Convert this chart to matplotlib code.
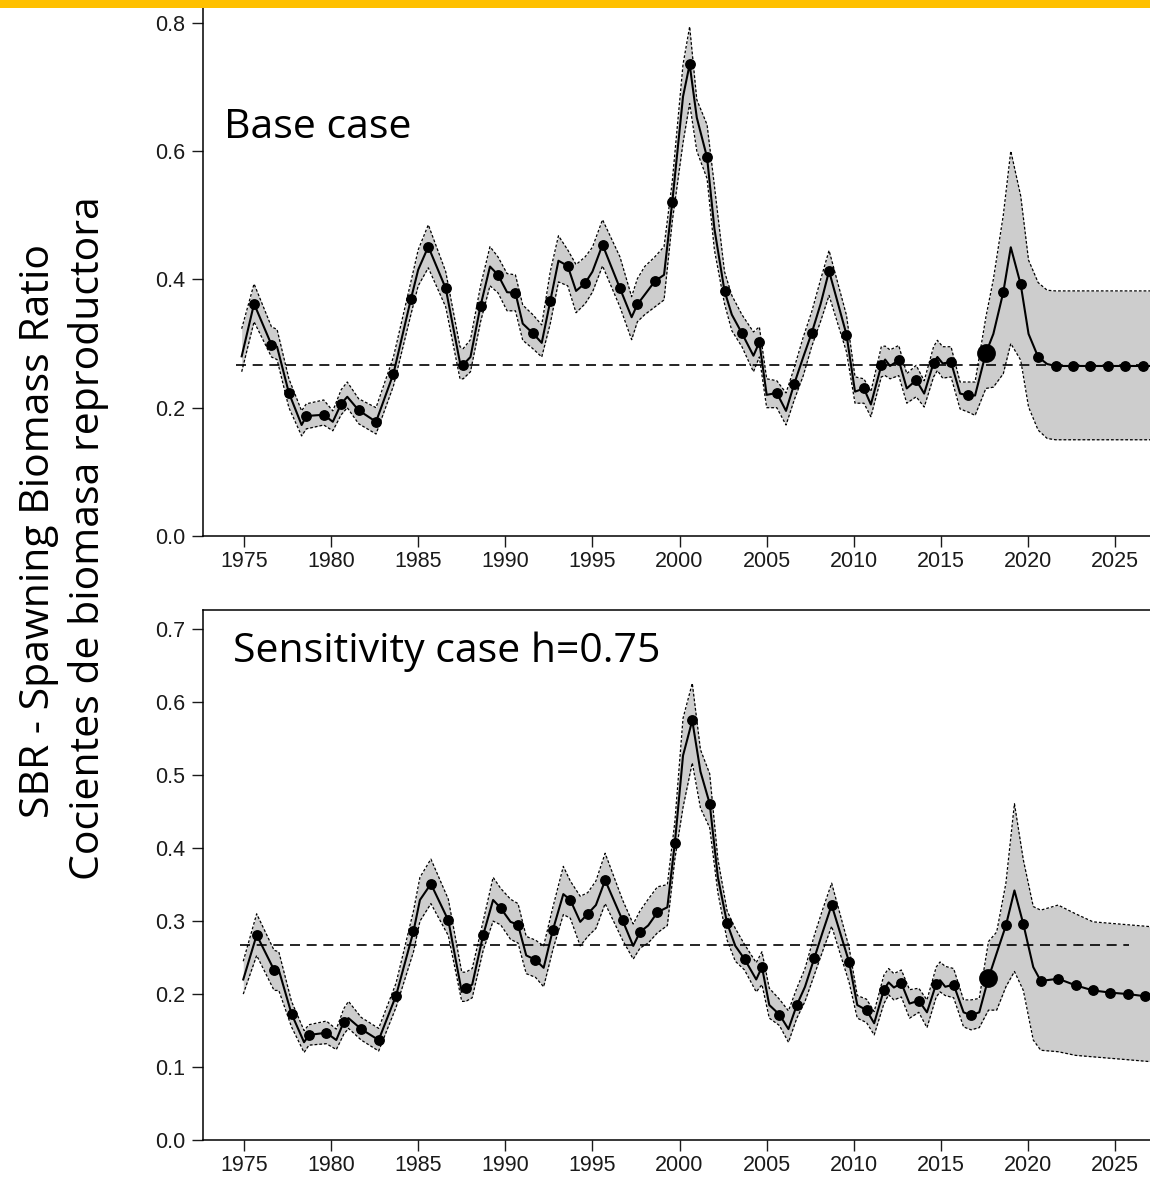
import numpy as np
import matplotlib
matplotlib.use("Agg")
import matplotlib.pyplot as plt
from matplotlib.patches import Rectangle

# ---------------- data ----------------
years = np.arange(1976, 2028)          # one dot per year
ref_sbr = 0.267                        # dashed reference level

# Base case: annual points
base_vals = [0.362, 0.298, 0.223, 0.187, 0.189, 0.206, 0.196, 0.178, 0.253, 0.369,
             0.451, 0.386, 0.267, 0.359, 0.407, 0.379, 0.316, 0.366, 0.421, 0.394,
             0.454, 0.386, 0.361, 0.397, 0.520, 0.735, 0.590, 0.382, 0.316, 0.302,
             0.223, 0.237, 0.316, 0.413, 0.314, 0.230, 0.266, 0.274, 0.243, 0.270,
             0.271, 0.219, 0.285, 0.380, 0.392, 0.279, 0.265, 0.265, 0.265, 0.265,
             0.265, 0.265]
base_lo = [0.334, 0.279, 0.200, 0.167, 0.173, 0.189, 0.175, 0.159, 0.234, 0.345,
           0.418, 0.357, 0.245, 0.334, 0.379, 0.351, 0.292, 0.331, 0.390, 0.362,
           0.421, 0.357, 0.334, 0.357, 0.490, 0.674, 0.557, 0.362, 0.295, 0.279,
           0.200, 0.212, 0.295, 0.375, 0.287, 0.207, 0.248, 0.250, 0.217, 0.248,
           0.248, 0.193, 0.230, 0.253, 0.274, 0.165, 0.150, 0.150, 0.150, 0.150,
           0.150, 0.150]
base_hi = [0.393, 0.326, 0.245, 0.206, 0.212, 0.228, 0.214, 0.200, 0.279, 0.396,
           0.485, 0.412, 0.292, 0.390, 0.435, 0.407, 0.345, 0.412, 0.446, 0.435,
           0.493, 0.435, 0.401, 0.435, 0.552, 0.794, 0.641, 0.412, 0.345, 0.326,
           0.242, 0.262, 0.349, 0.445, 0.344, 0.245, 0.295, 0.297, 0.266, 0.295,
           0.295, 0.240, 0.341, 0.500, 0.530, 0.395, 0.382, 0.382, 0.382, 0.382,
           0.382, 0.382]
# Base case: intermediate (quarterly) turning points of the trajectory
base_q_t = [1974.87, 1976.90, 1978.31, 1980.10, 1980.93, 1985.00, 1987.40, 1988.00,
            1989.12, 1990.10, 1991.00, 1992.09, 1993.05, 1994.06, 1995.00, 1997.25,
            1998.00, 1999.11, 2000.20, 2000.99, 2002.00, 2003.00, 2004.24, 2005.00,
            2006.11, 2007.10, 2008.10, 2010.07, 2010.98, 2011.80, 2012.08, 2013.04,
            2014.04, 2014.80, 2015.10, 2016.10, 2016.96, 2018.01, 2019.01, 2020.03,
            2021.10, 2027.20]
base_q_v = [0.280, 0.295, 0.173, 0.178, 0.217, 0.415, 0.270, 0.279, 0.420, 0.380,
            0.331, 0.301, 0.429, 0.382, 0.412, 0.341, 0.376, 0.407, 0.685, 0.652,
            0.479, 0.345, 0.281, 0.220, 0.195, 0.279, 0.362, 0.225, 0.205, 0.275,
            0.265, 0.230, 0.222, 0.279, 0.269, 0.222, 0.219, 0.315, 0.450, 0.315,
            0.268, 0.265]
base_q_lo = [0.256, 0.275, 0.156, 0.164, 0.200, 0.390, 0.245, 0.256, 0.390, 0.351,
             0.305, 0.279, 0.396, 0.348, 0.380, 0.306, 0.345, 0.368, 0.613, 0.600,
             0.446, 0.320, 0.256, 0.200, 0.173, 0.250, 0.335, 0.207, 0.186, 0.250,
             0.245, 0.207, 0.201, 0.258, 0.246, 0.198, 0.188, 0.232, 0.300, 0.201,
             0.152, 0.150]
base_q_hi = [0.323, 0.322, 0.195, 0.195, 0.240, 0.446, 0.295, 0.306, 0.451, 0.409,
             0.360, 0.329, 0.468, 0.423, 0.450, 0.373, 0.420, 0.451, 0.735, 0.680,
             0.546, 0.375, 0.318, 0.245, 0.223, 0.310, 0.400, 0.248, 0.225, 0.296,
             0.290, 0.253, 0.242, 0.305, 0.295, 0.240, 0.240, 0.400, 0.600, 0.430,
             0.383, 0.382]

# Sensitivity case h=0.75: annual points
sens_vals = [0.281, 0.233, 0.173, 0.144, 0.147, 0.162, 0.152, 0.137, 0.198, 0.286,
             0.351, 0.301, 0.208, 0.281, 0.318, 0.295, 0.247, 0.288, 0.329, 0.310,
             0.356, 0.301, 0.285, 0.312, 0.407, 0.575, 0.461, 0.297, 0.248, 0.237,
             0.172, 0.185, 0.249, 0.322, 0.244, 0.178, 0.206, 0.215, 0.191, 0.214,
             0.213, 0.171, 0.222, 0.294, 0.296, 0.218, 0.221, 0.212, 0.205, 0.202,
             0.200, 0.197]
sens_lo = [0.253, 0.205, 0.155, 0.130, 0.132, 0.145, 0.137, 0.122, 0.182, 0.258,
           0.324, 0.280, 0.190, 0.260, 0.295, 0.270, 0.223, 0.261, 0.304, 0.279,
           0.324, 0.274, 0.263, 0.284, 0.385, 0.517, 0.428, 0.274, 0.233, 0.213,
           0.157, 0.167, 0.226, 0.293, 0.216, 0.161, 0.187, 0.196, 0.175, 0.196,
           0.195, 0.151, 0.178, 0.210, 0.205, 0.123, 0.121, 0.116, 0.114, 0.112,
           0.110, 0.108]
sens_hi = [0.310, 0.260, 0.190, 0.158, 0.163, 0.180, 0.168, 0.153, 0.215, 0.314,
           0.385, 0.330, 0.230, 0.300, 0.345, 0.324, 0.274, 0.319, 0.355, 0.339,
           0.393, 0.329, 0.314, 0.347, 0.436, 0.626, 0.502, 0.314, 0.268, 0.258,
           0.193, 0.208, 0.280, 0.352, 0.264, 0.193, 0.226, 0.233, 0.208, 0.237,
           0.235, 0.192, 0.272, 0.352, 0.384, 0.315, 0.322, 0.310, 0.299, 0.297,
           0.295, 0.293]
sens_q_t = [1974.96, 1977.00, 1978.45, 1980.30, 1981.00, 1985.10, 1987.50, 1988.10,
            1989.30, 1990.30, 1991.20, 1992.20, 1993.33, 1994.30, 1995.20, 1997.34,
            1998.20, 1999.30, 2000.20, 2001.20, 2002.20, 2003.20, 2004.40, 2005.15,
            2006.25, 2007.20, 2008.20, 2010.20, 2011.17, 2012.00, 2012.30, 2013.20,
            2014.20, 2014.95, 2015.25, 2016.30, 2017.20, 2018.20, 2019.22, 2020.30,
            2027.20]
sens_q_v = [0.220, 0.233, 0.134, 0.137, 0.167, 0.329, 0.203, 0.213, 0.329, 0.299,
            0.253, 0.236, 0.337, 0.299, 0.322, 0.266, 0.294, 0.319, 0.527, 0.505,
            0.360, 0.266, 0.220, 0.185, 0.152, 0.210, 0.284, 0.185, 0.160, 0.216,
            0.209, 0.187, 0.175, 0.219, 0.210, 0.175, 0.175, 0.256, 0.342, 0.237,
            0.196]
sens_q_lo = [0.200, 0.205, 0.120, 0.124, 0.153, 0.300, 0.190, 0.195, 0.300, 0.275,
             0.228, 0.210, 0.309, 0.266, 0.290, 0.248, 0.270, 0.294, 0.456, 0.455,
             0.339, 0.245, 0.203, 0.167, 0.134, 0.190, 0.258, 0.167, 0.144, 0.199,
             0.192, 0.167, 0.154, 0.203, 0.198, 0.155, 0.154, 0.178, 0.231, 0.137,
             0.107]
sens_q_hi = [0.245, 0.258, 0.150, 0.152, 0.190, 0.360, 0.230, 0.235, 0.360, 0.330,
             0.279, 0.266, 0.375, 0.334, 0.355, 0.296, 0.330, 0.350, 0.578, 0.535,
             0.385, 0.290, 0.243, 0.208, 0.177, 0.235, 0.315, 0.198, 0.176, 0.235,
             0.228, 0.206, 0.192, 0.244, 0.238, 0.192, 0.194, 0.285, 0.461, 0.320,
             0.292]

current_idx = 42           # index of the large "current" point (2018)
base_shift, sens_shift = -0.42, -0.27

yticks_top = [0.0, 0.2, 0.4, 0.6, 0.8]
yticks_bot = [0.0, 0.1, 0.2, 0.3, 0.4, 0.5, 0.6, 0.7]
xticks = [1975, 1980, 1985, 1990, 1995, 2000, 2005, 2010, 2015, 2020, 2025]

ylabel1 = "SBR - Spawning Biomass Ratio"
ylabel2 = "Cocientes de biomasa reproductora"
title_top = "Base case"
title_bot = "Sensitivity case h=0.75"

# ---------------- figure ----------------
W, H = 1150, 1179
fig = plt.figure(figsize=(W / 100, H / 100), dpi=100)

def fx(px):
    return px / W

def fy(py):
    return 1 - py / H

tick_font = "Liberation Sans"
big_font = "Open Sans"


def panel(ax, dx, dv, dlo, dhi, qt, qv, qlo, qhi, ref_x):
    t = np.concatenate([dx, qt])
    order = np.argsort(t)
    t = t[order]
    v = np.concatenate([dv, qv])[order]
    lo = np.concatenate([dlo, qlo])[order]
    hi = np.concatenate([dhi, qhi])[order]
    ax.fill_between(t, lo, hi, color="#cdcdcd", lw=0, zorder=1)
    for b in (lo, hi):
        ax.plot(t, b, color="black", lw=0.9, ls=(0, (2.2, 1.6)), zorder=2,
                solid_joinstyle="round")
    ax.plot(ref_x, [ref_sbr, ref_sbr], color="black", lw=1.2,
            ls=(0, (6, 4)), zorder=3)
    ax.plot(t, v, color="black", lw=1.5, zorder=4, solid_joinstyle="round")
    mask = np.ones(len(dx), bool)
    mask[current_idx] = False
    ax.plot(np.asarray(dx)[mask], np.asarray(dv)[mask], "o", color="black",
            ms=6.8, zorder=5)
    ax.plot([dx[current_idx]], [dv[current_idx]], "o", color="black",
            ms=12.5, zorder=6)
    ax.set_xlim(1972.65, 2027.0)
    ax.set_xticks(xticks)
    ax.spines["right"].set_visible(False)
    for s in ax.spines.values():
        s.set_linewidth(1.1)
    ax.tick_params(direction="out", length=8, width=1.0, labelsize=15.5,
                   colors="#1a1a1a")
    ax.tick_params(axis="x", pad=2.5)
    ax.tick_params(axis="y", pad=5)
    for lab in ax.get_xticklabels() + ax.get_yticklabels():
        lab.set_fontfamily(tick_font)


# top panel
ax1 = fig.add_axes([fx(203), fy(536), 1 - fx(203), 536 / H])
panel(ax1, years + base_shift, base_vals, base_lo, base_hi,
      base_q_t, base_q_v, base_q_lo, base_q_hi, [1974.55, 2028])
ax1.set_ylim(0, 0.8354)
ax1.set_yticks(yticks_top)
ax1.set_yticklabels([f"{v:.1f}" for v in yticks_top], fontfamily=tick_font)
ax1.spines["top"].set_visible(False)

# bottom panel
ax2 = fig.add_axes([fx(203), fy(1140), 1 - fx(203), (1140 - 610) / H])
panel(ax2, years + sens_shift, sens_vals, sens_lo, sens_hi,
      sens_q_t, sens_q_v, sens_q_lo, sens_q_hi, [1974.8, 2025.8])
ax2.set_ylim(0, 0.7264)
ax2.set_yticks(yticks_bot)
ax2.set_yticklabels([f"{v:.1f}" for v in yticks_bot], fontfamily=tick_font)

# texts
fig.text(fx(224), fy(128), title_top, fontsize=29.5, fontfamily=big_font,
         ha="left", va="center")
fig.text(fx(233), fy(652), title_bot, fontsize=29.5, fontfamily=big_font,
         ha="left", va="center")
fig.text(fx(39), fy(531), ylabel1, fontsize=29.5, fontfamily=big_font,
         rotation=90, ha="center", va="center")
fig.text(fx(89), fy(538), ylabel2, fontsize=29.5, fontfamily=big_font,
         rotation=90, ha="center", va="center")

# yellow banner at the top
fig.add_artist(Rectangle((0, fy(8)), 1, 8 / H, transform=fig.transFigure,
                         facecolor="#FFC000", edgecolor="none", zorder=10))

fig.savefig("out.png", dpi=100)
